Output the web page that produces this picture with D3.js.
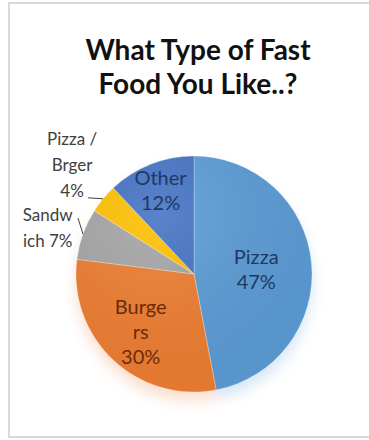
<!DOCTYPE html>
<html>
<head>
<meta charset="utf-8">
<script src="https://cdn.jsdelivr.net/npm/d3@7"></script>
<style>
  html, body { margin: 0; padding: 0; background: #fff; }
  svg { display: block; }
</style>
</head>
<body>
<svg id="chart" width="369" height="440"></svg>
<script>
// Survey answers, in drawing order (clockwise from 12 o'clock)
const categories = ["Pizza", "Burgers", "Sandwich", "Pizza / Brger", "Other"];
const shares = [47, 30, 7, 4, 12];
// Label lines as printed on the chart
const labelLines = [["Pizza", "47%"], ["Burge", "rs", "30%"], ["Sandw", "ich 7%"], ["Pizza /", "Brger", "4%"], ["Other", "12%"]];
const titleLines = ["What Type of Fast", "Food You Like..?"];

const colors = ["#5B9BD5", "#ED7D31", "#A5A5A5", "#FFC000", "#4472C4"];
const labelColors = ["#1F3864", "#6B2A08", "#404040", "#404040", "#1F3864"];
// Label placement: inside labels sit along the slice bisector, outside ones on a polar point
const labelPlace = [
  { inside: true, r: 0.53 },
  { inside: true, r: 0.66 },
  { inside: false, r: 1.30, angle: 287.5 },
  { inside: false, r: 1.39, angle: 312 },
  { inside: true, r: 0.77 }
];

const W = 369, H = 440;
const cx = 194, cy = 274, R = 118;
const svg = d3.select("#chart");
const font = "Lato, 'Open Sans', sans-serif";

// chart frame
svg.append("rect")
  .attr("x", 9).attr("y", 3).attr("width", W + 10).attr("height", H - 6)
  .attr("fill", "#fff").attr("stroke", "#D9D9D9").attr("stroke-width", 2);

// title
svg.append("text")
  .attr("x", 198).attr("y", 60)
  .attr("text-anchor", "middle")
  .attr("font-family", font).attr("font-weight", 700).attr("font-size", 28)
  .attr("fill", "#111")
  .selectAll("tspan").data(titleLines).join("tspan")
  .attr("x", 198).attr("dy", (d, i) => i === 0 ? 0 : 34)
  .text(d => d);

// soft shadow under the pie
const defs = svg.append("defs");
const f = defs.append("filter").attr("id", "soft").attr("x", "-30%").attr("y", "-30%").attr("width", "160%").attr("height", "160%");
f.append("feGaussianBlur").attr("stdDeviation", 7);

const rows = categories.map((c, i) => ({ name: c, value: shares[i], i }));
const pie = d3.pie().value(d => d.value).sort(null);
const arcs = pie(rows);
const arc = d3.arc().innerRadius(0).outerRadius(R);

const g = svg.append("g").attr("transform", `translate(${cx},${cy})`);

g.append("g").attr("filter", "url(#soft)").attr("opacity", 0.25)
  .attr("transform", "translate(0,9)")
  .selectAll("path").data(arcs).join("path")
  .attr("d", arc).attr("fill", d => colors[d.index]);

// gentle top-light shading
const grad = defs.append("radialGradient").attr("id", "shine")
  .attr("cx", "35%").attr("cy", "25%").attr("r", "80%");
grad.append("stop").attr("offset", "0%").attr("stop-color", "#fff").attr("stop-opacity", 0.12);
grad.append("stop").attr("offset", "100%").attr("stop-color", "#000").attr("stop-opacity", 0.04);

g.selectAll("path.slice").data(arcs).join("path")
  .attr("class", "slice")
  .attr("d", arc)
  .attr("fill", d => colors[d.index])
  .attr("stroke", "#fff").attr("stroke-opacity", 0.5).attr("stroke-width", 0.6);

g.append("circle").attr("r", R).attr("fill", "url(#shine)");

// labels
const polar = (deg, r) => [Math.sin(deg * Math.PI / 180) * r, -Math.cos(deg * Math.PI / 180) * r];

arcs.forEach(a => {
  const p = labelPlace[a.index];
  const mid = (a.startAngle + a.endAngle) / 2 * 180 / Math.PI;
  const ang = p.inside ? mid : p.angle;
  const [x, y] = polar(ang, p.r * R);
  const lines = labelLines[a.index];
  const lh = p.inside ? 25 : 26;
  const fs = p.inside ? 20 : 17;
  const t = g.append("text")
    .attr("text-anchor", "middle")
    .attr("font-family", font).attr("font-size", fs)
    .attr("fill", labelColors[a.index]);
  lines.forEach((ln, k) => {
    t.append("tspan")
      .attr("x", x)
      .attr("y", y + (k - (lines.length - 1) / 2) * lh)
      .attr("dominant-baseline", "central")
      .text(ln);
  });
});

// leader lines for the two outside labels
const edge = (deg) => polar(deg, R);
const sandMid = (arcs[2].startAngle + arcs[2].endAngle) / 2 * 180 / Math.PI;
const pbMid = (arcs[3].startAngle + arcs[3].endAngle) / 2 * 180 / Math.PI;
const e2 = edge(sandMid), e3 = edge(pbMid);
g.append("path")
  .attr("d", d3.line()([[e2[0] - 5, e2[1] - 16], e2]))
  .attr("stroke", "#404040").attr("stroke-width", 1).attr("fill", "none");
g.append("path")
  .attr("d", d3.line()([[e3[0] - 15, e3[1] - 1], e3]))
  .attr("stroke", "#404040").attr("stroke-width", 1).attr("fill", "none");
</script>
</body>
</html>
